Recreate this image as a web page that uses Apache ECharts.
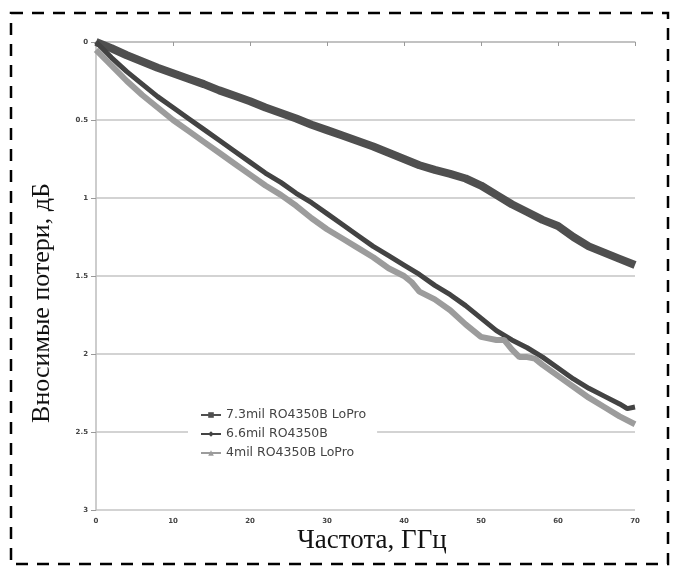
<!DOCTYPE html>
<html>
<head>
<meta charset="utf-8">
<script src="https://cdn.jsdelivr.net/npm/echarts@6/dist/echarts.min.js"></script>
<style>
  html, body { margin: 0; padding: 0; background: #fff; }
  #chart { width: 679px; height: 576px; }
</style>
</head>
<body>
<div id="chart"></div>
<script>
// Insertion loss vs frequency for three stripline laminates
const seriesNames = ['7.3mil RO4350B LoPro', '6.6mil RO4350B', '4mil RO4350B LoPro'];

const freq73 = [0, 2, 4, 6, 8, 10, 12, 14, 16, 18, 20, 22, 24, 26, 28, 30, 32, 34, 36, 38, 40, 42, 44, 46, 48, 50, 52, 54, 56, 58, 60, 62, 64, 66, 68, 70];
const loss73 = [0, 0.04, 0.085, 0.125, 0.165, 0.2, 0.235, 0.27, 0.31, 0.345, 0.38, 0.42, 0.455, 0.49, 0.53, 0.565, 0.6, 0.635, 0.67, 0.71, 0.75, 0.79, 0.82, 0.845, 0.875, 0.92, 0.98, 1.04, 1.09, 1.14, 1.18, 1.25, 1.31, 1.35, 1.39, 1.43];

const freq66 = [0, 1, 2, 4, 6, 8, 10, 12, 14, 16, 18, 20, 22, 24, 26, 28, 30, 32, 34, 36, 38, 40, 42, 44, 46, 48, 50, 52, 54, 56, 58, 60, 62, 64, 66, 68, 69, 70];
const loss66 = [0, 0.05, 0.1, 0.19, 0.27, 0.35, 0.42, 0.49, 0.56, 0.63, 0.7, 0.77, 0.84, 0.9, 0.97, 1.03, 1.1, 1.17, 1.24, 1.31, 1.37, 1.43, 1.49, 1.56, 1.62, 1.69, 1.77, 1.85, 1.91, 1.96, 2.02, 2.09, 2.16, 2.22, 2.27, 2.32, 2.35, 2.34];

const freq4 = [0, 1, 2, 4, 6, 8, 10, 12, 14, 16, 18, 20, 22, 24, 26, 28, 30, 32, 34, 36, 38, 40, 41, 42, 44, 46, 48, 50, 52, 53, 54, 55, 56, 57, 58, 60, 62, 64, 66, 68, 70];
const loss4 = [0.05, 0.1, 0.15, 0.25, 0.34, 0.42, 0.5, 0.57, 0.64, 0.71, 0.78, 0.85, 0.92, 0.98, 1.05, 1.13, 1.2, 1.26, 1.32, 1.38, 1.45, 1.5, 1.54, 1.6, 1.65, 1.72, 1.81, 1.89, 1.91, 1.91, 1.97, 2.02, 2.02, 2.03, 2.07, 2.14, 2.21, 2.28, 2.34, 2.4, 2.45];

const xTicks = [0, 10, 20, 30, 40, 50, 60, 70];
const yTickLabels = ['0', '0.5', '1', '1.5', '2', '2.5', '3'];

const pairs = (xs, ys) => xs.map((x, i) => [x, ys[i]]);

const chart = echarts.init(document.getElementById('chart'), null, { renderer: 'canvas' });

const tickFont = { fontFamily: 'DejaVu Sans', fontSize: 7, fontWeight: 'bold', color: '#444' };

chart.setOption({
  backgroundColor: '#fff',
  animation: false,
  grid: { left: 96, right: 44, top: 42, bottom: 66 },
  xAxis: {
    type: 'value',
    min: xTicks[0],
    max: xTicks[xTicks.length - 1],
    interval: 10,
    axisLine: { lineStyle: { color: '#bdbdbd', width: 1.5 } },
    axisTick: { show: true, length: 4, lineStyle: { color: '#999' } },
    splitLine: { show: false },
    axisLabel: Object.assign({ margin: 8 }, tickFont)
  },
  yAxis: {
    type: 'value',
    inverse: true,
    min: 0,
    max: 3,
    interval: 0.5,
    axisLine: { show: true, lineStyle: { color: '#bdbdbd', width: 1.5 } },
    axisTick: { show: true, length: 5, lineStyle: { color: '#999' } },
    splitLine: { show: true, lineStyle: { color: '#c4c4c4', width: 1.5 } },
    axisLabel: Object.assign({
      margin: 8,
      formatter: v => yTickLabels[Math.round(v / 0.5)]
    }, tickFont)
  },
  legend: {
    data: seriesNames,
    orient: 'vertical',
    left: 188,
    top: 402,
    backgroundColor: '#fff',
    padding: [6, 11, 6, 12],
    itemWidth: 20,
    itemHeight: 7,
    itemGap: 5,
    textStyle: { fontFamily: 'DejaVu Sans', fontSize: 12.5, color: '#444', lineHeight: 14 }
  },
  series: [
    {
      name: seriesNames[0], type: 'line', data: pairs(freq73, loss73),
      showSymbol: false, symbol: 'rect', symbolSize: 6,
      lineStyle: { color: '#4f4f4f', width: 8 }, itemStyle: { color: '#4f4f4f' }
    },
    {
      name: seriesNames[1], type: 'line', data: pairs(freq66, loss66),
      showSymbol: false, symbol: 'diamond', symbolSize: 6,
      lineStyle: { color: '#434343', width: 5 }, itemStyle: { color: '#434343' }
    },
    {
      name: seriesNames[2], type: 'line', data: pairs(freq4, loss4),
      showSymbol: false, symbol: 'triangle', symbolSize: 6,
      lineStyle: { color: '#9c9c9c', width: 6 }, itemStyle: { color: '#9c9c9c' }
    }
  ],
  graphic: [
    {
      type: 'rect', z: 100, silent: true,
      shape: { x: 11, y: 13, width: 657, height: 551 },
      style: { fill: 'none', stroke: '#000', lineWidth: 2.5, lineDash: [12, 9] }
    },
    {
      type: 'text', z: 100, x: 42, y: 303, rotation: Math.PI / 2,
      style: {
        text: 'Вносимые потери, дБ', fontFamily: 'Liberation Serif', fontSize: 26,
        fill: '#111', align: 'center', verticalAlign: 'middle'
      }
    },
    {
      type: 'text', z: 100, x: 372, y: 541,
      style: {
        text: 'Частота, ГГц', fontFamily: 'Liberation Serif', fontSize: 27,
        fill: '#111', align: 'center', verticalAlign: 'middle'
      }
    }
  ]
});
</script>
</body>
</html>
